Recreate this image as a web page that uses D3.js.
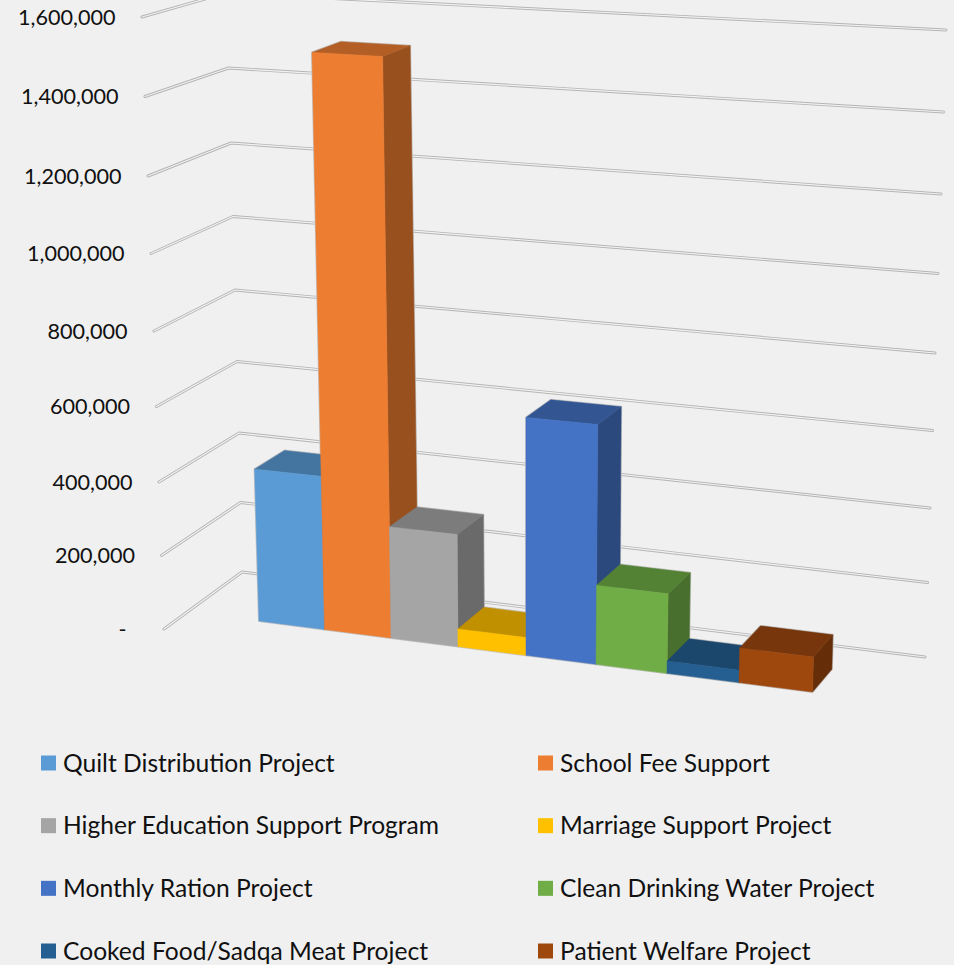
<!DOCTYPE html>
<html>
<head>
<meta charset="utf-8">
<script src="https://cdn.jsdelivr.net/npm/d3@7"></script>
<style>
  html, body { margin: 0; padding: 0; background: #f0f0f0; }
  svg { display: block; }
  text { font-family: Lato, "Open Sans", sans-serif; fill: #111; }
</style>
</head>
<body>
<div id="wrapper"></div>
<script>
// Values
const categories = [
  "Quilt Distribution Project",
  "School Fee Support",
  "Higher Education Support Program",
  "Marriage Support Project",
  "Monthly Ration Project",
  "Clean Drinking Water Project",
  "Cooked Food/Sadqa Meat Project",
  "Patient Welfare Project",
];
const values = [416000, 1512000, 300000, 47000, 626000, 208000, 32000, 90000];
const colors = ["#5b9bd5", "#ed7d31", "#a5a5a5", "#ffc000", "#4472c4", "#70ad47", "#255e91", "#9e480e"];
const tickValues = [0, 200000, 400000, 600000, 800000, 1000000, 1200000, 1400000, 1600000];

function drawChart() {
  //* Step 1. Dimensions
  const dimensions = { width: 954, height: 965 };

  //* Step 2. Canvas
  const wrapper = d3
    .select("#wrapper")
    .append("svg")
    .attr("width", dimensions.width)
    .attr("height", dimensions.height);

  //* Step 3. Scales. The 3D view is faked with scales along the three wall edges
  const anchors = [0, 400000, 800000, 1200000, 1600000];
  const wallFrontX = d3.scaleLinear().domain(anchors).range([164, 159, 154, 148, 142]);
  const wallFrontY = d3.scaleLinear().domain(anchors).range([629, 482, 331, 176, 17]);
  const wallCornerX = d3.scaleLinear().domain(anchors).range([242, 239, 235, 231, 226]);
  const wallCornerY = d3.scaleLinear().domain(anchors).range([572, 433, 290, 143, -7]);
  const wallRightX = d3.scaleLinear().domain(anchors).range([925, 930, 935, 941, 946]);
  const wallRightY = d3.scaleLinear().domain(anchors).range([657, 508, 353, 194, 30]);

  // bars get a little wider towards the right
  const bandX = d3
    .scaleLinear()
    .domain(d3.range(categories.length + 1))
    .range([259, 324.5, 391, 458, 526, 596, 667, 739, 812.5]);
  const baseY = d3.scaleLinear().domain([259, 812.5]).range([621, 692]);
  const heightPx = (v) => wallFrontY(0) - wallFrontY(v);

  const view = {
    centerX: 526,
    convergeX: 1.075e-4,
    growX: 1.17e-4,
    growFrom: 325,
    depthX: 1830,
    depthY: -510,
    depth: 0.019,
  };

  // front plane point for band position i at value v
  const front = (i, v) => {
    const x = bandX(i);
    const h = heightPx(v);
    return [
      x + (x - view.centerX) * view.convergeX * h,
      baseY(x) - h * (1 + view.growX * (x - view.growFrom)),
    ];
  };
  const back = ([x, y]) => [
    x + (view.depthX - x) * view.depth,
    y + (view.depthY - y) * view.depth,
  ];

  //* Step 4. Gridlines
  const line = d3.line();
  const gridPoints = (v) => [
    [wallFrontX(v), wallFrontY(v)],
    [wallCornerX(v), wallCornerY(v)],
    [wallRightX(v), wallRightY(v)],
  ];
  const grid = wrapper.append("g").attr("fill", "none").attr("stroke-linejoin", "round");
  grid
    .selectAll("path.outer")
    .data(tickValues)
    .join("path")
    .attr("class", "outer")
    .attr("d", (d) => line(gridPoints(d)))
    .attr("stroke", "#b4b4b4")
    .attr("stroke-linecap", "round")
    .attr("stroke-width", 3);
  grid
    .selectAll("path.inner")
    .data(tickValues)
    .join("path")
    .attr("class", "inner")
    .attr("d", (d) => line(gridPoints(d)))
    .attr("stroke", "#f2f2f2")
    .attr("stroke-linecap", "round")
    .attr("stroke-width", 1.2);

  //* Step 5. Bars
  const dataset = categories.map((name, i) => {
    const fbl = front(i, 0);
    const fbr = front(i + 1, 0);
    const ftl = front(i, values[i]);
    const ftr = front(i + 1, values[i]);
    return {
      name,
      color: colors[i],
      fbl,
      fbr,
      ftl,
      ftr,
      btl: back(ftl),
      btr: back(ftr),
      bbr: back(fbr),
    };
  });

  const closed = (pts) => line(pts) + "Z";

  // thin grey edge round every bar, kept under all the faces
  wrapper
    .append("g")
    .selectAll("path")
    .data(dataset)
    .join("path")
    .attr("d", (d) => closed([d.fbl, d.ftl, d.btl, d.btr, d.bbr, d.fbr]))
    .attr("fill", "#c4c4c4")
    .attr("stroke", "#c4c4c4")
    .attr("stroke-width", 2)
    .attr("stroke-linejoin", "round");

  const barGroups = wrapper.append("g").selectAll("g").data(dataset).join("g");

  const face = (pointsOf, colorOf) =>
    barGroups
      .append("path")
      .attr("d", (d) => closed(pointsOf(d)))
      .attr("fill", colorOf)
      .attr("stroke", colorOf)
      .attr("stroke-width", 0.5)
      .attr("stroke-linejoin", "round");

  face((d) => [d.ftr, d.btr, d.bbr, d.fbr], (d) => d3.color(d.color).darker(1.25));
  face((d) => [d.ftl, d.btl, d.btr, d.ftr], (d) => d3.color(d.color).darker(0.8));
  face((d) => [d.fbl, d.ftl, d.ftr, d.fbr], (d) => d.color);

  //* Step 6. Peripherals
  wrapper
    .append("g")
    .selectAll("text")
    .data(tickValues)
    .join("text")
    .attr("x", (d) => wallFrontX(d) - 26.5)
    .attr("y", (d) => wallFrontY(d))
    .attr("dy", "0.35em")
    .style("text-anchor", "end")
    .style("font-size", "21.6px")
    .text((d) => (d === 0 ? "-\u00a0\u00a0" : d3.format(",")(d)));

  const legendCol = d3.scaleOrdinal().domain([0, 1]).range([41, 538]);
  const legendRow = d3.scaleLinear().domain([0, 3]).range([763, 951]);
  const legendItems = wrapper
    .append("g")
    .selectAll("g")
    .data(dataset)
    .join("g")
    .attr(
      "transform",
      (d, i) => `translate(${legendCol(i % 2)}, ${legendRow(Math.floor(i / 2))})`
    );
  legendItems
    .append("rect")
    .attr("x", 0)
    .attr("y", -7.5)
    .attr("width", 15)
    .attr("height", 15)
    .attr("fill", (d) => d.color);
  legendItems
    .append("text")
    .attr("x", 22)
    .attr("dy", "0.35em")
    .style("font-size", "24.6px")
    .text((d) => d.name);
}

drawChart();
</script>
</body>
</html>
